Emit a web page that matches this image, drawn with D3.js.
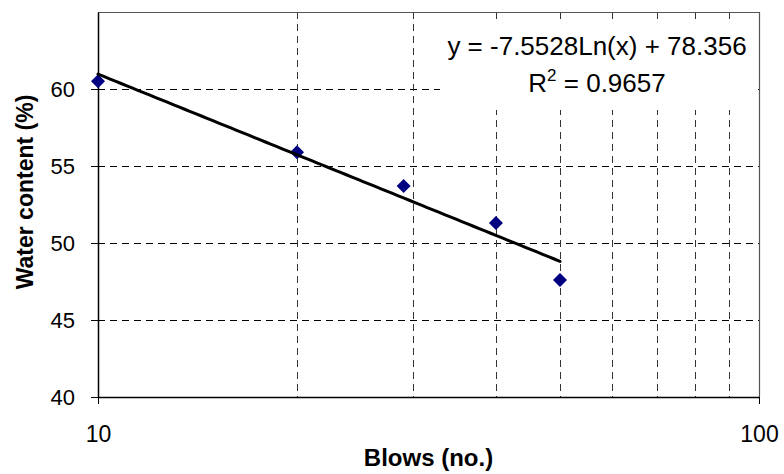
<!DOCTYPE html>
<html>
<head>
<meta charset="utf-8">
<script src="https://cdn.jsdelivr.net/npm/d3@7"></script>
<style>
  html, body { margin: 0; padding: 0; background: #fff; }
  svg { display: block; font-family: "Liberation Sans", Arial, sans-serif; }
</style>
</head>
<body>
<svg id="chart" width="784" height="474"></svg>
<script>
// Liquid-limit test: blows vs. water content
const blows = [10, 20, 29, 40, 50];
const waterContent = [60.5, 55.9, 53.7, 51.3, 47.6];

// Logarithmic trendline reported by the fit
const fitSlope = -7.5528;
const fitIntercept = 78.356;
const fitR2 = 0.9657;
const fitRange = [10, 50];

const xTicks = [10, 100];
const xGrid = [20, 30, 40, 50, 60, 70, 80, 90];
const yTicks = [40, 45, 50, 55, 60];
const yGrid = [45, 50, 55, 60, 65];

const plot = { left: 98, right: 759, top: 12, bottom: 397 };

const svg = d3.select("#chart");

const x = d3.scaleLog().domain([10, 100]).range([plot.left, plot.right]);
const y = d3.scaleLinear().domain([40, 65]).range([plot.bottom, plot.top]);

// Dashed gridlines
const grid = svg.append("g").attr("fill", "none").attr("stroke", "#000")
  .attr("stroke-width", 1).attr("stroke-dasharray", "7,5");
grid.selectAll("line.h").data(yGrid).join("line").attr("class", "h")
  .attr("x1", plot.left).attr("x2", plot.right)
  .attr("y1", d => Math.round(y(d)) + 0.5).attr("y2", d => Math.round(y(d)) + 0.5);
grid.selectAll("line.v").data(xGrid).join("line").attr("class", "v")
  .attr("stroke", "#333")
  .attr("y1", plot.top).attr("y2", plot.bottom)
  .attr("x1", d => Math.round(x(d)) + 0.5).attr("x2", d => Math.round(x(d)) + 0.5);

// Plot border (top / right)
svg.append("path")
  .attr("d", `M${plot.left},${plot.top + 0.5}H${plot.right + 0.5}V${plot.bottom}`)
  .attr("fill", "none").attr("stroke", "#555").attr("stroke-width", 1.2);

// Equation box (white background hides grid)
const eqCx = 597;
svg.append("rect").attr("x", 440).attr("y", 19).attr("width", 313).attr("height", 91)
  .attr("fill", "#fff");
const eq = svg.append("g").attr("fill", "#000").attr("font-size", 26)
  .attr("text-anchor", "middle");
eq.append("text").attr("x", eqCx).attr("y", 55)
  .text(`y = ${fitSlope}Ln(x) + ${fitIntercept}`);
const r2t = eq.append("text").attr("x", eqCx).attr("y", 92);
r2t.append("tspan").text("R");
r2t.append("tspan").attr("font-size", 17).attr("dy", -11).text("2");
r2t.append("tspan").attr("dy", 11).text(` = ${fitR2}`);

// Y axis
const yAxis = svg.append("g").attr("transform", `translate(${plot.left},0)`)
  .call(d3.axisLeft(y).tickValues(yTicks).tickSize(7).tickPadding(16).tickSizeOuter(0));
yAxis.select(".domain").attr("stroke", "#000").attr("stroke-width", 1.5);
yAxis.selectAll(".tick line").attr("x1", -7).attr("x2", 7).attr("stroke", "#000");
yAxis.selectAll(".tick text").attr("font-size", 22).attr("fill", "#000")
  .attr("font-family", "Liberation Sans, Arial, sans-serif");

// X axis
const xAxis = svg.append("g").attr("transform", `translate(0,${plot.bottom})`)
  .call(d3.axisBottom(x).tickValues(xTicks).tickFormat(d3.format("d"))
    .tickSize(7).tickSizeOuter(0));
xAxis.select(".domain").attr("stroke", "#000").attr("stroke-width", 1.5);
xAxis.selectAll(".tick line").attr("stroke", "#000");
xAxis.selectAll(".tick text").attr("font-size", 23).attr("fill", "#000")
  .attr("y", 45).attr("dy", null)
  .attr("font-family", "Liberation Sans, Arial, sans-serif");

// Axis titles
svg.append("text").attr("x", (plot.left + plot.right) / 2).attr("y", 466)
  .attr("text-anchor", "middle").attr("font-weight", "bold").attr("font-size", 24)
  .text("Blows (no.)");
svg.append("text").attr("transform", "translate(33,192) rotate(-90)")
  .attr("text-anchor", "middle").attr("font-weight", "bold").attr("font-size", 23)
  .text("Water content (%)");

// Data points (navy diamonds)
const diamond = d3.symbol(d3.symbolSquare, 98);
svg.append("g").selectAll("path").data(blows.map((b, i) => [b, waterContent[i]])).join("path")
  .attr("d", diamond)
  .attr("transform", d => `translate(${x(d[0])},${y(d[1])}) rotate(45)`)
  .attr("fill", "#000080");

// Trendline from the fitted equation
const trendX = d3.range(0, 81).map(i => fitRange[0] * Math.pow(fitRange[1] / fitRange[0], i / 80));
const line = d3.line().x(d => x(d)).y(d => y(fitSlope * Math.log(d) + fitIntercept));
svg.append("path").datum(trendX).attr("d", line)
  .attr("fill", "none").attr("stroke", "#000").attr("stroke-width", 3)
  .attr("stroke-linecap", "round");
</script>
</body>
</html>
